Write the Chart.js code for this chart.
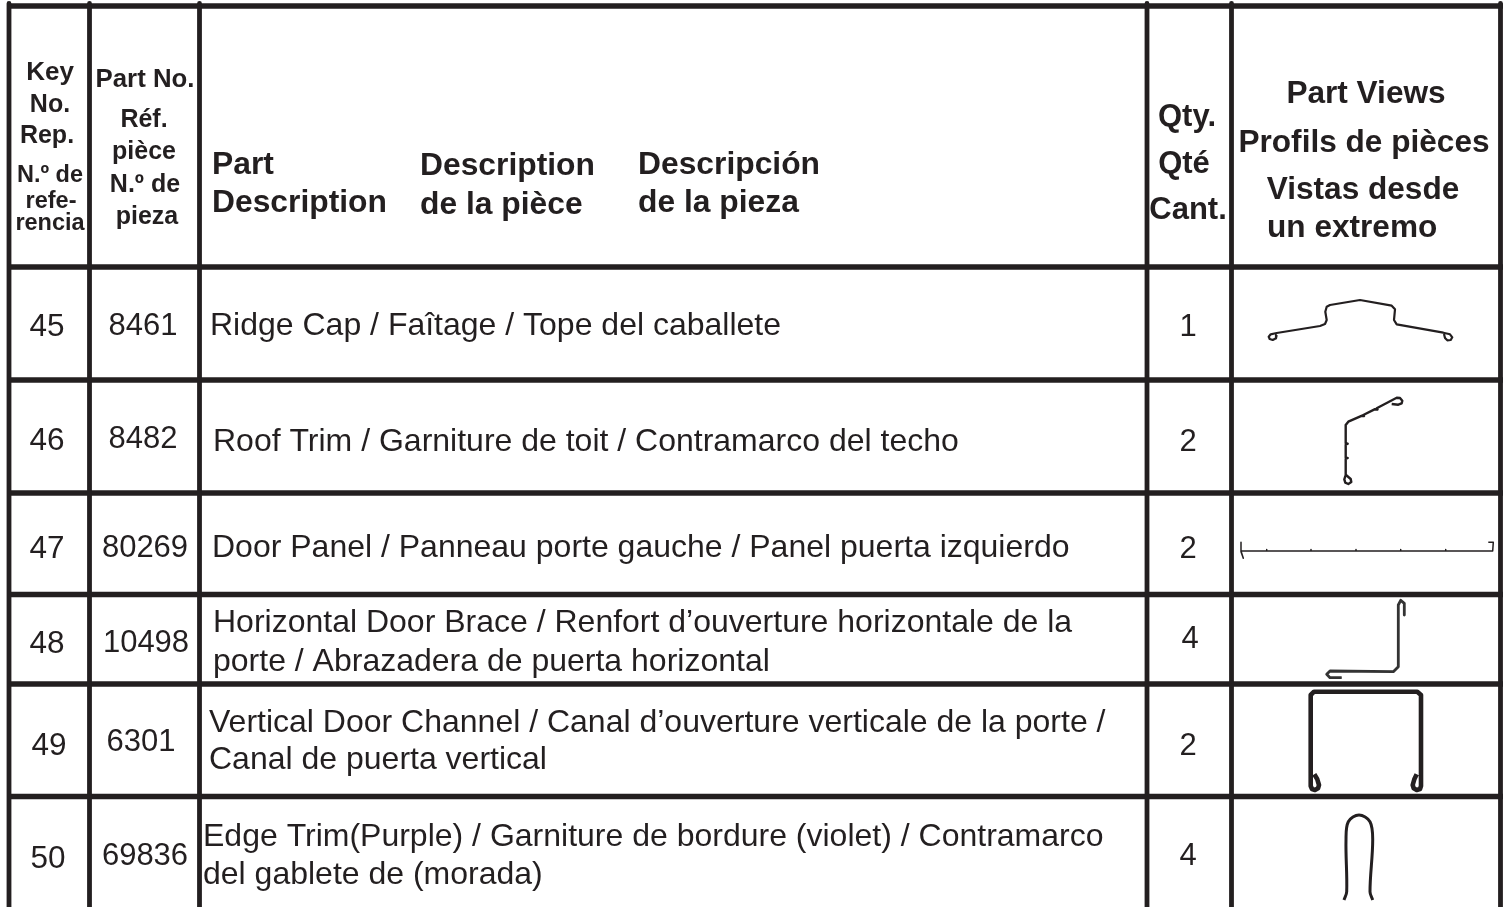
<!DOCTYPE html>
<html>
<head>
<meta charset="utf-8">
<title>Parts list</title>
<script src="https://cdn.jsdelivr.net/npm/chart.js@4/dist/chart.umd.min.js"></script>
<style>
    html,body{margin:0;padding:0;background:#fff}
    #wrap{position:relative;width:1507px;height:907px}
</style>
</head>
<body>
<div id="wrap"><canvas id="parts"></canvas></div>
<script>
// table contents
const keyNos = ["45","46","47","48","49","50"]
const partNos = ["8461","8482","80269","10498","6301","69836"]
const quantities = ["1","2","2","4","2","4"]
const descriptions = [
    ["Ridge Cap / Faîtage / Tope del caballete"],
    ["Roof Trim / Garniture de toit / Contramarco del techo"],
    ["Door Panel / Panneau porte gauche / Panel puerta izquierdo"],
    ["Horizontal Door Brace / Renfort d’ouverture horizontale de la","porte / Abrazadera de puerta horizontal"],
    ["Vertical Door Channel / Canal d’ouverture verticale de la porte /","Canal de puerta vertical"],
    ["Edge Trim(Purple) / Garniture de bordure (violet) / Contramarco","del gablete de (morada)"]
]
const keyHeader = ["Key","No.","Rep.","N.º de","refe-","rencia"]
const partHeader = ["Part No.","Réf.","pièce","N.º de","pieza"]
const descHeader = ["Part","Description","Description","de la pièce","Descripción","de la pieza"]
const qtyHeader = ["Qty.","Qté","Cant."]
const viewHeader = ["Part Views","Profils de pièces","Vistas desde","un extremo"]

// table rules, in picture pixels
const columnRules = [9,89.5,199.5,1147,1231.5,1500.5]
const rowRules = [6,267,380,493,594.5,684,796.5]

// end view outlines
const ridgeCap = [[1276.7,335],[1276,338.3],[1272.7,340],[1269.7,339],[1268.7,336.7],[1270.7,334.3],[1276.7,333],[1320,326],[1325,324],[1326.7,320],[1325.3,311.7],[1326.7,306.7],[1330,305],[1360,300],[1391.7,305.7],[1395,309.3],[1394,320],[1396.7,324.3],[1443.3,332.7],[1450,334.3],[1452.3,337.3],[1450.7,340],[1447.3,340.3],[1445,338],[1444,334]]
const roofTrim = [[1391.7,404],[1398.3,404.7],[1401.7,403.3],[1402.3,400.7],[1400,398],[1396.7,397.7],[1376.7,408.3],[1377.5,409.5],[1375,409.2],[1363.3,415],[1364,416],[1361.5,415.8],[1348.3,421.7],[1345.7,425],[1345.7,443.3],[1347.7,443.7],[1345.7,444.7],[1345.7,457.7],[1347.7,458],[1345.7,459],[1345.7,475],[1344.3,479.3],[1345.3,482.7],[1348.3,484],[1351.3,482],[1350.7,479],[1346,475]]
const doorPanel = [[1241,542.3],[1241,551.7],[1243.3,558.3],[1241,551],[1266.7,551],[1266.7,549.5],[1266.7,551],[1311,551],[1311,549.5],[1311,551],[1356,551],[1356,549.5],[1356,551],[1400.7,551],[1400.7,549.5],[1400.7,551],[1445.7,551],[1445.7,549.5],[1445.7,551],[1492.7,551],[1493.3,542.3],[1488.3,542.3]]
const doorBrace = [[1341.7,677.7],[1330,677.7],[1326.7,674.3],[1330,671],[1393.3,671.7],[1398.3,666.7],[1398.3,605],[1400.7,600.3],[1404.3,603.3],[1404.3,615]]
const doorChannel = [[1314.3,774.3],[1317.3,779.3],[1319,785],[1318,788.3],[1315,790],[1312,789],[1310.7,786],[1310.7,695],[1314,691.7],[1417.3,691.7],[1421,695],[1421,786],[1420,789],[1416.7,790],[1413.7,788.3],[1412.7,785],[1414.3,779.3],[1416.7,774.3]]
const edgeTrim = [[1344,900],[1346.7,891.7],[1346,840],[1348.3,821.7],[1359,815],[1370,821.7],[1372.7,840],[1370,891.7],[1372.7,900]]

const ink = "#231f20"
const regular = s => `${s}px "Liberation Sans"`
const bold = s => `bold ${s}px "Liberation Sans"`

function outline(points,width,color,tension){
    return {
        data: points.map(p=>({x:p[0],y:p[1]})),
        showLine:true,
        borderColor:color||ink,
        borderWidth:width,
        pointRadius:0,
        tension:tension||0,
        clip:false,
        borderJoinStyle:"round"
    }
}

let datasets = []
columnRules.forEach(x=>datasets.push(outline([[x,3.5],[x,907]],4.8)))
rowRules.forEach(y=>datasets.push(outline([[7,y],[1503,y]],5.5)))
datasets.push(outline(ridgeCap,2.2))
datasets.push(outline(roofTrim,2.4))
datasets.push(outline(doorPanel,1.5))
datasets.push(outline(doorBrace,2.8,"#333"))
datasets.push(outline(doorBrace,1,"#a0a0a0"))
datasets.push(outline(doorChannel,4.6))
datasets.push(outline(doorChannel,.7,"#999"))
datasets.push(outline(edgeTrim,3,ink,.35))

// where each text sits: x, baseline
const keyPlace = [[50,80],[50,112],[47,143],[50,182],[51,208],[50,230]]
const partPlace = [[145,87],[144,127],[144,159],[145,192],[147,224]]
const descPlace = [[212,174],[212,212],[420,175],[420,214],[638,174],[638,212]]
const qtyPlace = [[1187,126],[1184,173],[1188,219]]
const viewPlace = [[1366,103],[1364,152],[1363,199],[1267,237]]
const rowKey = [[47,336],[47,450],[47,558],[47,653],[49,755],[48,868]]
const rowPart = [[143,335],[143,448],[145,557],[146,652],[141,751],[145,865]]
const rowQty = [[1188,336],[1188,451],[1188,558],[1190,648],[1188,755],[1188,865]]
const rowDesc = [[[210,335]],[[213,451]],[[212,557]],[[213,632],[213,671]],[[209,732],[209,769]],[[203,846],[203,884]]]

const tableText = {
    id:"tableText",
    afterDatasetsDraw(chart){
        const {ctx,scales:{x,y}} = chart
        let put = (txt,p,font,align)=>{
            ctx.font = font
            ctx.textAlign = align
            ctx.fillText(txt,x.getPixelForValue(p[0]),y.getPixelForValue(p[1]))
        }
        ctx.save()
        ctx.fillStyle = ink
        ctx.textBaseline = "alphabetic"
        keyHeader.forEach((t,i)=>put(t,keyPlace[i],bold(i<1?26:i<3?25:23.5),"center"))
        partHeader.forEach((t,i)=>put(t,partPlace[i],bold(i<1?25.8:25),"center"))
        descHeader.forEach((t,i)=>put(t,descPlace[i],bold(31.8),"left"))
        qtyHeader.forEach((t,i)=>put(t,qtyPlace[i],bold(31),"center"))
        viewHeader.forEach((t,i)=>put(t,viewPlace[i],bold(31.6),i==3?"left":"center"))
        keyNos.forEach((t,i)=>put(t,rowKey[i],regular(31.5),"center"))
        partNos.forEach((t,i)=>put(t,rowPart[i],regular(31),"center"))
        quantities.forEach((t,i)=>put(t,rowQty[i],regular(31),"center"))
        descriptions.forEach((lines,i)=>lines.forEach((t,j)=>put(t,rowDesc[i][j],regular(32),"left")))
        ctx.restore()
    }
}

new Chart(document.getElementById("parts"),{
    type:"scatter",
    data:{datasets:datasets},
    options:{
        responsive:true,
        maintainAspectRatio:false,
        animation:false,
        layout:{padding:0},
        scales:{
            x:{type:"linear",min:0,max:1507,display:false},
            y:{type:"linear",min:0,max:907,reverse:true,display:false}
        },
        plugins:{legend:{display:false},tooltip:{enabled:false}}
    },
    plugins:[tableText]
})
</script>
</body>
</html>
